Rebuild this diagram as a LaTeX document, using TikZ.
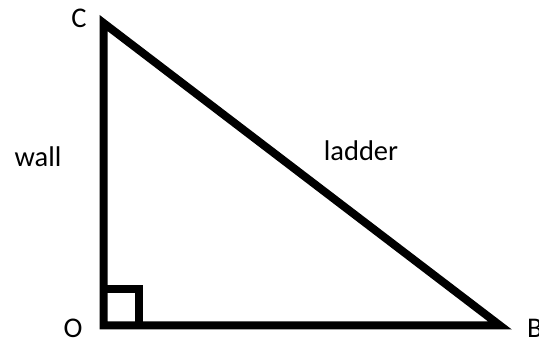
\documentclass[tikz,border=0pt]{standalone}
\usepackage{fontspec}
\setmainfont{Carlito}
\begin{document}
\begin{tikzpicture}[x=1pt,y=-1pt,
  lbl/.style={inner sep=0pt,font=\fontsize{28.5}{34}\selectfont},
  edge/.style={line width=8pt,line join=miter}]
\useasboundingbox (0,0) rectangle (539,342);
\coordinate (C) at (103.5,23);
\coordinate (O) at (103.5,325.5);
\coordinate (B) at (500,325.5);
\draw[edge] (C) -- (O) -- (B) -- cycle;
\coordinate (S1) at (103.5,289);
\coordinate (S2) at (139,289);
\coordinate (S3) at (139,325.5);
\draw[edge] (S1) -- (S2) -- (S3);
\node[lbl] (lc) at (79,18.5) {C};
\node[lbl] (lo) at (73,328.5) {O};
\node[lbl,anchor=west] (lb) at (527,328) {B};
\node[lbl] (lw) at (38,157) {wall};
\node[lbl] (ll) at (361,151) {ladder};
\end{tikzpicture}
\end{document}
